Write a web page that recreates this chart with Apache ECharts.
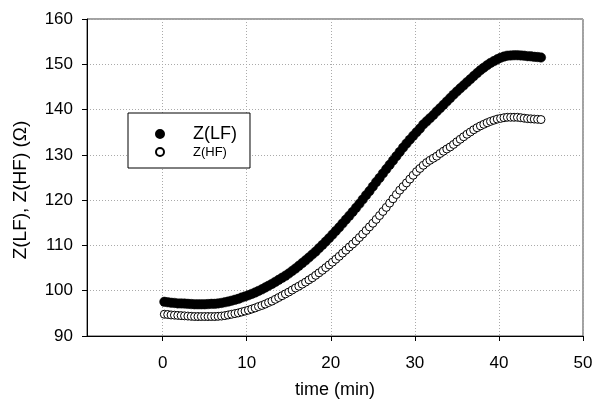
<!DOCTYPE html>
<html>
<head>
<meta charset="utf-8">
<script src="https://cdn.jsdelivr.net/npm/echarts@6/dist/echarts.min.js"></script>
<style>
  html, body { margin: 0; padding: 0; background: #fff; }
</style>
</head>
<body>
<div id="myChart" style="width: 594px; height: 399px"></div>
<script>
// time (min)
const times = [
  0.2, 0.6, 1.0, 1.4, 1.8, 2.2, 2.6, 3.0, 3.4, 3.8, 4.2, 4.6, 5.0, 5.4, 5.8, 6.2, 6.6, 7.0, 7.4, 7.8,
  8.2, 8.6, 9.0, 9.4, 9.8, 10.2, 10.6, 11.0, 11.4, 11.8, 12.2, 12.6, 13.0, 13.4, 13.8, 14.2, 14.6, 15.0, 15.4, 15.8,
  16.2, 16.6, 17.0, 17.4, 17.8, 18.2, 18.6, 19.0, 19.4, 19.8, 20.2, 20.6, 21.0, 21.4, 21.8, 22.2, 22.6, 23.0, 23.4, 23.8,
  24.2, 24.6, 25.0, 25.4, 25.8, 26.2, 26.6, 27.0, 27.4, 27.8, 28.2, 28.6, 29.0, 29.4, 29.8, 30.2, 30.6, 31.0, 31.4, 31.8,
  32.2, 32.6, 33.0, 33.4, 33.8, 34.2, 34.6, 35.0, 35.4, 35.8, 36.2, 36.6, 37.0, 37.4, 37.8, 38.2, 38.6, 39.0, 39.4, 39.8,
  40.2, 40.6, 41.0, 41.4, 41.8, 42.2, 42.6, 43.0, 43.4, 43.8, 44.2, 44.6, 45.0
];
// Z(LF)
const zLF = [
  97.55, 97.45, 97.35, 97.3, 97.2, 97.2, 97.15, 97.1, 97.05, 97.0, 97.0, 97.0, 97.0, 97.05, 97.1, 97.1, 97.2, 97.3, 97.45, 97.6,
  97.8, 98.0, 98.2, 98.5, 98.75, 99.0, 99.3, 99.6, 99.95, 100.3, 100.7, 101.1, 101.5, 101.95, 102.4, 102.85, 103.3, 103.8, 104.35, 104.9,
  105.5, 106.1, 106.7, 107.35, 108.0, 108.65, 109.4, 110.1, 110.85, 111.6, 112.4, 113.2, 114.0, 114.85, 115.7, 116.55, 117.4, 118.3, 119.2, 120.15,
  121.1, 122.0, 123.0, 124.0, 124.9, 125.9, 126.85, 127.8, 128.75, 129.7, 130.65, 131.6, 132.5, 133.35, 134.2, 135.0, 135.8, 136.7, 137.4, 138.1,
  138.8, 139.6, 140.3, 141.05, 141.8, 142.55, 143.3, 144.0, 144.7, 145.35, 146.05, 146.7, 147.4, 148.05, 148.7, 149.25, 149.8, 150.3, 150.7, 151.1,
  151.45, 151.7, 151.9, 151.95, 152.0, 152.0, 151.95, 151.9, 151.8, 151.75, 151.65, 151.6, 151.5
];
// Z(HF)
const zHF = [
  94.8, 94.75, 94.65, 94.6, 94.55, 94.5, 94.45, 94.4, 94.35, 94.3, 94.3, 94.3, 94.3, 94.3, 94.3, 94.3, 94.35, 94.4, 94.5, 94.65,
  94.8, 94.95, 95.1, 95.3, 95.5, 95.7, 95.95, 96.2, 96.5, 96.75, 97.05, 97.4, 97.7, 98.1, 98.5, 98.9, 99.3, 99.7, 100.15, 100.6,
  101.0, 101.45, 101.9, 102.4, 102.85, 103.4, 103.95, 104.5, 105.1, 105.7, 106.3, 106.95, 107.6, 108.3, 108.95, 109.65, 110.3, 111.0, 111.75, 112.5,
  113.3, 114.1, 114.9, 115.75, 116.6, 117.5, 118.4, 119.35, 120.3, 121.25, 122.2, 123.0, 123.8, 124.65, 125.5, 126.3, 127.0, 127.7, 128.3, 128.8,
  129.25, 129.7, 130.3, 130.8, 131.3, 131.75, 132.3, 132.9, 133.45, 134.0, 134.55, 135.05, 135.55, 136.0, 136.4, 136.75, 137.1, 137.4, 137.65, 137.9,
  138.05, 138.2, 138.3, 138.3, 138.3, 138.3, 138.2, 138.1, 138.0, 137.95, 137.9, 137.85, 137.8
];
const xTicks = [0, 10, 20, 30, 40, 50];

const font = "Liberation Sans, Arial, sans-serif";
let myChart = echarts.init(document.getElementById("myChart"));
myChart.setOption({
  animation: false,
  textStyle: { fontFamily: font },
  grid: {
    left: 87, top: 19, right: 11, bottom: 63,
    outerBoundsMode: "none",
    show: true,
    borderColor: "#444",
    borderWidth: 1,
  },
  legend: {
    orient: "vertical",
    left: 128,
    top: 113,
    padding: [12, 13, 9, 27],
    itemGap: 2,
    itemWidth: 8,
    itemHeight: 8,
    borderColor: "#000",
    borderWidth: 1,
    backgroundColor: "#fff",
    data: [
      { name: "Z(LF)", textStyle: { fontSize: 18, lineHeight: 14, padding: [0, 0, 0, 24], color: "#000" } },
      { name: "Z(HF)", textStyle: { fontSize: 13, lineHeight: 14, padding: [0, 0, 0, 24], color: "#000" } },
    ],
  },
  xAxis: {
    type: "value",
    min: -9,
    max: 50,
    name: "time (min)",
    nameLocation: "middle",
    nameGap: 45,
    nameTextStyle: { fontSize: 18, color: "#000" },
    axisLine: { onZero: false, lineStyle: { color: "#000", width: 1 } },
    axisTick: { customValues: xTicks, length: 5, lineStyle: { color: "#000" } },
    axisLabel: { customValues: xTicks, fontSize: 17, color: "#000", margin: 19 },
    splitLine: { show: true, lineStyle: { color: "#aaa", type: [1, 2], width: 1 } },
  },
  yAxis: {
    type: "value",
    min: 90,
    max: 160,
    interval: 10,
    axisLine: { show: true, onZero: false, lineStyle: { color: "#000", width: 1 } },
    axisTick: { show: true, length: 5, lineStyle: { color: "#000" } },
    axisLabel: { fontSize: 17, color: "#000", margin: 14 },
    splitLine: { show: true, lineStyle: { color: "#aaa", type: [1, 2], width: 1 } },
  },
  graphic: [
    {
      type: "text",
      x: 21,
      y: 190,
      rotation: Math.PI / 2,
      style: {
        text: "Z(LF), Z(HF) (Ω)",
        font: "19px " + font,
        fill: "#000",
        align: "center",
        verticalAlign: "middle",
      },
    },
  ],
  series: [
    {
      name: "Z(LF)",
      type: "scatter",
      symbol: "circle",
      symbolSize: 9.5,
      data: times.map((t, i) => [t, zLF[i]]),
      itemStyle: { color: "#000", borderColor: "#000", borderWidth: 0.5, opacity: 1 },
    },
    {
      name: "Z(HF)",
      type: "scatter",
      symbol: "circle",
      symbolSize: 8,
      data: times.map((t, i) => [t, zHF[i]]),
      itemStyle: { color: "#fff", borderColor: "#000", borderWidth: 1, opacity: 1 },
    },
  ],
});
</script>
</body>
</html>
